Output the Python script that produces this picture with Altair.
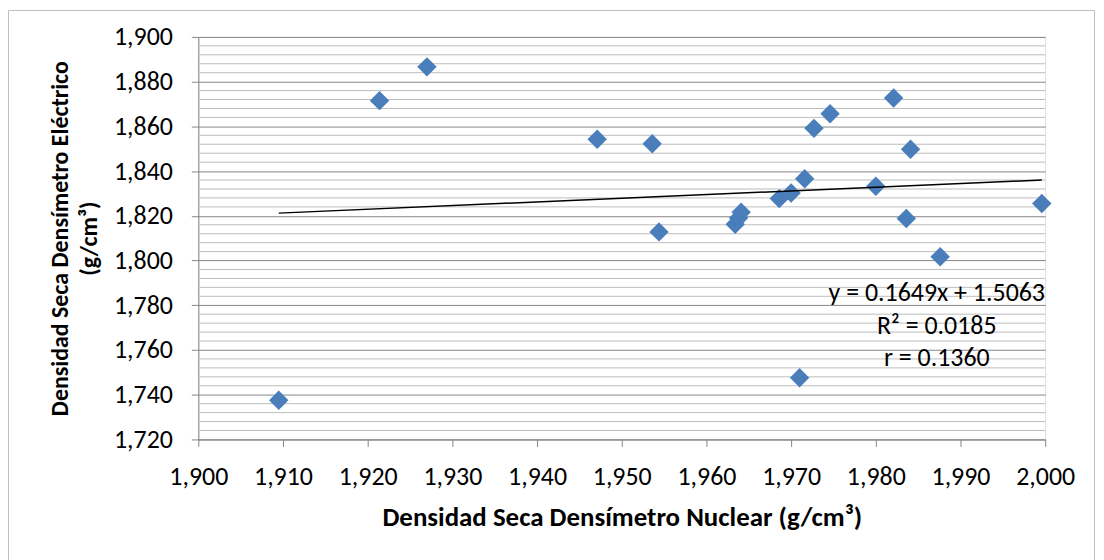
import altair as alt
import pandas as pd

# Data (g/cm³)
nuclear = [1.9095, 1.9214, 1.9270, 1.9471, 1.9536, 1.9544, 1.9641, 1.9638, 1.9634,
           1.9686, 1.9700, 1.9716, 1.9727, 1.9746, 1.9800, 1.9821, 1.9836, 1.9841,
           1.9876, 1.9996, 1.9710]
electrico = [1.7375, 1.8715, 1.8866, 1.8542, 1.8522, 1.8128, 1.8216, 1.8190, 1.8162,
             1.8277, 1.8302, 1.8366, 1.8591, 1.8656, 1.8332, 1.8727, 1.8188, 1.8498,
             1.8017, 1.8255, 1.7476]

# Trend line end points (from picture / stated equation)
trend_x = [1.9095, 1.9996]
trend_y = [1.8212, 1.8360]

annot_text = ["y = 0.1649x + 1.5063", "R² = 0.0185", "r = 0.1360"]
annot_x = [1.9872, 1.9872, 1.9872]
annot_y = [1.7855, 1.7708, 1.7565]

x_ticks = [1.90, 1.91, 1.92, 1.93, 1.94, 1.95, 1.96, 1.97, 1.98, 1.99, 2.00]
y_major = [1.72, 1.74, 1.76, 1.78, 1.80, 1.82, 1.84, 1.86, 1.88, 1.90]
y_minor = [round(1.72 + 0.004 * i, 3) for i in range(46) if i % 5 != 0]

FONT = "Carlito, Lato, sans-serif"
label_expr = "replace(format(datum.value, '.3f'), '.', ',')"

pts = pd.DataFrame({"x": nuclear, "y": electrico})
trend = pd.DataFrame({"x": trend_x, "y": trend_y})
ann = pd.DataFrame({"t": annot_text, "x": annot_x, "y": annot_y})
minor = pd.DataFrame({"y": y_minor})

xscale = alt.Scale(domain=[1.90, 2.00], nice=False, zero=False)
yscale = alt.Scale(domain=[1.72, 1.90], nice=False, zero=False)

frame = alt.Chart(alt.Data(values=[{"a": 1}])).mark_rect(
    fill=None, stroke="#BFBFBF", strokeWidth=1
).encode(
    x=alt.value(-190.5), x2=alt.value(899.5), y=alt.value(-26.5), y2=alt.value(540)
)

minor_grid = alt.Chart(minor).mark_rule(color="#BDBDBD", strokeWidth=1).encode(
    y=alt.Y("y:Q", scale=yscale)
)

points = alt.Chart(pts).mark_point(
    shape="diamond", filled=True, size=380, color="#4A7EBB", opacity=1
).encode(
    x=alt.X(
        "x:Q", scale=xscale,
        axis=alt.Axis(
            values=x_ticks, labelExpr=label_expr, grid=False,
            title="Densidad Seca Densímetro Nuclear (g/cm³)",
            titleFont=FONT, titleFontSize=27, titleFontWeight="bold", titleColor="#000000",
            titlePadding=15,
            labelFont=FONT, labelFontSize=26, labelColor="#000000", labelPadding=17,
            tickSize=7, tickColor="#868686", domainColor="#868686",
            labelFlush=False, labelOverlap=False,
        ),
    ),
    y=alt.Y(
        "y:Q", scale=yscale,
        axis=alt.Axis(
            values=y_major, labelExpr=label_expr, grid=True, gridColor="#868686",
            gridWidth=1,
            title=["Densidad Seca Densímetro Eléctrico", "(g/cm³)"],
            titleFont=FONT, titleFontSize=24, titleFontWeight="bold", titleColor="#000000",
            titleLineHeight=29, titlePadding=12,
            labelFont=FONT, labelFontSize=26, labelColor="#000000", labelPadding=19,
            tickSize=7, tickColor="#868686", domainColor="#868686",
            labelFlush=False, labelOverlap=False,
        ),
    ),
)

trend_line = alt.Chart(trend).mark_line(color="#000000", strokeWidth=1.5).encode(
    x=alt.X("x:Q", scale=xscale), y=alt.Y("y:Q", scale=yscale)
)

annot = alt.Chart(ann).mark_text(
    font=FONT, fontSize=26, color="#000000", align="center", baseline="middle"
).encode(
    x=alt.X("x:Q", scale=xscale), y=alt.Y("y:Q", scale=yscale), text="t:N"
)

chart = alt.layer(minor_grid, points, trend_line, annot, frame).properties(
    width=850, height=404,
    autosize=alt.AutoSizeParams(type="none"),
    padding={"left": 191, "top": 28, "right": 51, "bottom": 120},
).configure_view(stroke=None).configure(background="#FFFFFF")

chart.save("out.html", embed_options={"renderer": "svg", "actions": False})
